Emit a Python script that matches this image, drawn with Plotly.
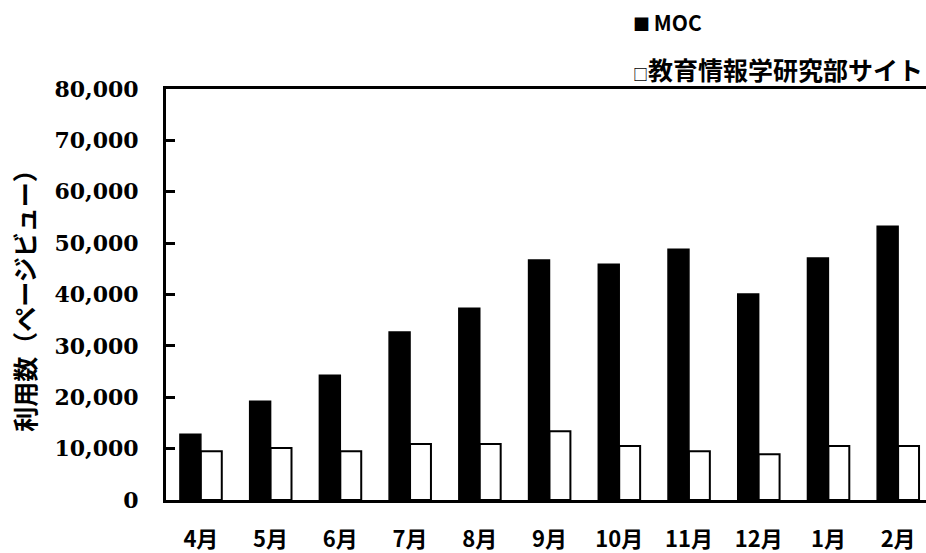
import plotly.graph_objects as go

# Monthly page views
months = ["4月", "5月", "6月", "7月", "8月", "9月", "10月", "11月", "12月", "1月", "2月"]
moc_views = [12800, 19200, 24300, 32700, 37300, 46700, 45900, 48800, 40100, 47100, 53300]
site_views = [9500, 10100, 9500, 10900, 10900, 13400, 10500, 9500, 8900, 10500, 10500]

series_names = ["MOC", "教育情報学研究部サイト"]
y_ticks = [0, 10000, 20000, 30000, 40000, 50000, 60000, 70000, 80000]
y_title = "利用数（ページビュー）"

W, H = 926, 553
M_L, M_R, M_T, M_B = 166, 0, 89, 51
jp_font = "Noto Sans CJK JP"

fig = go.Figure()
fig.add_trace(go.Bar(
    x=months, y=moc_views, name=series_names[0],
    marker=dict(color="#000000", line=dict(color="#000000", width=1.5)),
))
fig.add_trace(go.Bar(
    x=months, y=site_views, name=series_names[1],
    marker=dict(color="#ffffff", line=dict(color="#000000", width=2)),
))

fig.update_layout(
    width=W, height=H,
    margin=dict(l=M_L, r=M_R, t=M_T, b=M_B),
    paper_bgcolor="#ffffff", plot_bgcolor="#ffffff",
    barmode="group", bargap=0.4, bargroupgap=0,
    showlegend=False,
    xaxis=dict(
        range=[-0.5, 10.4],
        showgrid=False, zeroline=False,
        showline=True, linecolor="#000000", linewidth=3, mirror=True,
        ticks="",
        ticklabelstandoff=18,
        tickfont=dict(family=jp_font, size=22, color="#000000", weight="bold"),
    ),
    yaxis=dict(
        range=[0, 80000],
        tickvals=y_ticks,
        ticktext=[f"{v:,}" for v in y_ticks],
        showgrid=False, zeroline=False,
        showline=True, linecolor="#000000", linewidth=3,
        ticks="inside", ticklen=9, tickwidth=3, tickcolor="#000000",
        ticklabelstandoff=20,
        tickfont=dict(family="DejaVu Serif", size=22, color="#000000", weight="bold"),
        title=dict(text=y_title, standoff=12,
                   font=dict(family=jp_font, size=25, color="#000000", weight="bold")),
    ),
)

# Legend rows placed in pixel terms above the plot area
plot_w = W - M_L - M_R
plot_h = H - M_T - M_B


def paper_x(px):
    return (px - M_L) / plot_w


def paper_y(py):
    return (H - M_B - py) / plot_h


fig.add_annotation(text='<span style="font-size:17px">■ </span>' + series_names[0],
                   xref="paper", yref="paper",
                   x=paper_x(631), y=paper_y(22),
                   xanchor="left", yanchor="middle", showarrow=False,
                   font=dict(family=jp_font, size=21, color="#000000", weight="bold"))
fig.add_annotation(text='<span style="font-size:15px">□</span>' + series_names[1],
                   xref="paper", yref="paper",
                   x=paper_x(631), y=paper_y(69),
                   xanchor="left", yanchor="middle", showarrow=False,
                   font=dict(family=jp_font, size=25, color="#000000", weight="bold"))

fig.write_html("out.html")
